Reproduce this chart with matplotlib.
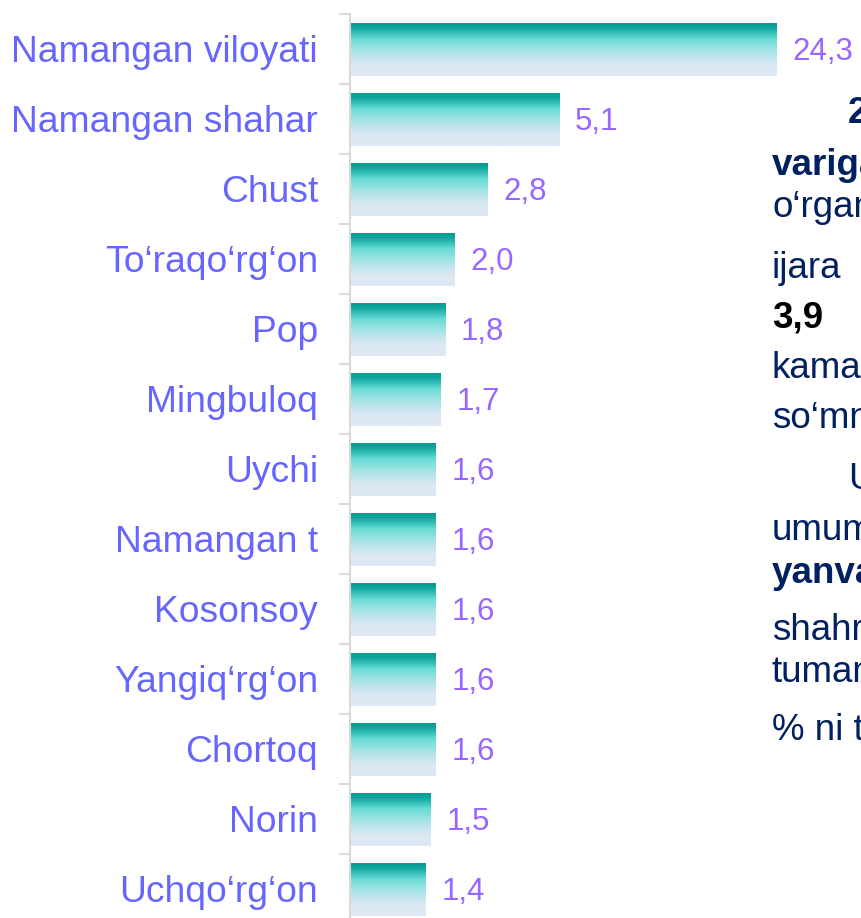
import numpy as np
import matplotlib.pyplot as plt
from matplotlib.colors import LinearSegmentedColormap

plt.rcParams['font.family'] = ['Liberation Sans', 'DejaVu Sans']

# hududlar va ulushlar (%), yuqoridan pastga
hududlar = ['Namangan viloyati', 'Namangan shahar', 'Chust', 'To‘raqo‘rg‘on', 'Pop',
            'Mingbuloq', 'Uychi', 'Namangan t', 'Kosonsoy', 'Yangiq‘rg‘on',
            'Chortoq', 'Norin', 'Uchqo‘rg‘on']
qiymatlar = [24.3, 5.1, 2.8, 2.0, 1.8, 1.7, 1.6, 1.6, 1.6, 1.6, 1.6, 1.5, 1.4]

# o'ng tomondagi (kesilgan) matn satrlari
matn_satrlar = ['2025-yil', 'variga', 'o‘rganilgan', 'ijara', '3,9', 'kamaygan',
                'so‘mni', 'Uy-joy', 'umumiy', 'yanvar', 'shahri', 'tumanlarda',
                '% ni tashkil']
matn_qalin = [True, True, False, False, True, False, False, False, False, True,
              False, False, False]

W, H = 861, 918
fig = plt.figure(figsize=(W / 100, H / 100), dpi=100)
ax = fig.add_axes([350 / W, -6 / H, 511 / W, 910 / H])

# gradient: tepada to'q firuza, pastda och havorang
cmap = LinearSegmentedColormap.from_list('firuza', [
    (0.0, '#00958F'), (0.12, '#12A8A1'), (0.32, '#68DCD6'),
    (0.55, '#A9E3E6'), (0.8, '#DCE8F4'), (1.0, '#DFE9F5')])
grad = np.linspace(0, 1, 256).reshape(-1, 1)

y = np.arange(len(hududlar))
bars = ax.barh(y, qiymatlar, height=0.77, color='none', edgecolor='none')
for b in bars:
    x0, yb, w, h = b.get_x(), b.get_y(), b.get_width(), b.get_height()
    im = ax.imshow(grad, cmap=cmap, aspect='auto', origin='upper',
                   extent=(x0, x0 + w, yb + h, yb), interpolation='bilinear', zorder=2)
    im.set_clip_path(b)

for i, v in enumerate(qiymatlar):
    ax.annotate(f'{v:.1f}'.replace('.', ','), xy=(v, i), xytext=(10.5, -8),
                textcoords='offset points', ha='left', va='baseline',
                fontsize=22.5, color='#9966FF')

# katta ustunni siqish uchun asinh shkala
ax.set_xscale('asinh', linear_width=2.5)
ax.set_xlim(0, 43.4)
ax.set_ylim(len(hududlar) - 0.5, -0.5)

ax.set_yticks(y)
ax.set_yticklabels(hududlar, fontsize=26.8, color='#6666FF')
ax.set_yticks(np.arange(-0.5, len(hududlar), 1), minor=True)
ax.tick_params(axis='y', which='major', length=0, pad=23)
ax.tick_params(axis='y', which='minor', length=8, width=1.5, color='#D9D9D9')
ax.xaxis.set_visible(False)
for s in ['top', 'right', 'bottom']:
    ax.spines[s].set_visible(False)
ax.spines['left'].set_color('#D9D9D9')
ax.spines['left'].set_linewidth(1.5)

# matn bloki (rasm chetida kesiladi)
satr_x = [848, 772, 772, 772, 772, 772, 772, 848, 772, 772, 772, 772, 772]
satr_y = [123, 175, 217, 278, 327, 378, 428, 489, 540, 583, 640, 682, 740]
for s, qalin, sx, sy in zip(matn_satrlar, matn_qalin, satr_x, satr_y):
    rang = '#000000' if s == '3,9' else '#002060'
    fig.text(sx / W, 1 - sy / H, s, fontsize=26.5, color=rang,
             fontweight='bold' if qalin else 'normal', ha='left', va='baseline')

plt.savefig('out.png', dpi=100)
